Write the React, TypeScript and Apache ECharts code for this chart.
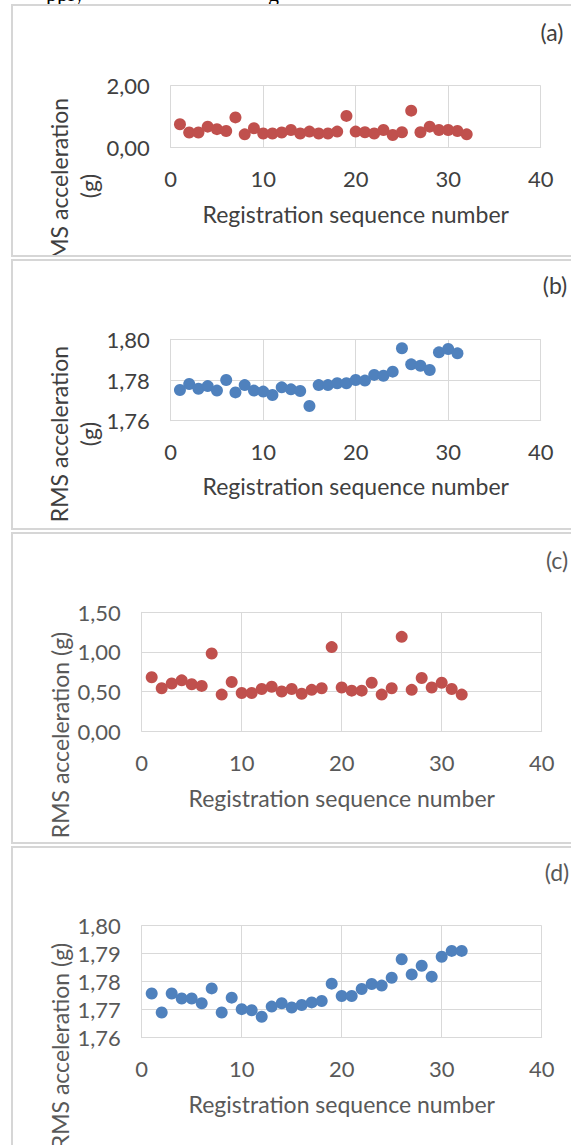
import React, { useEffect, useRef } from "react";
import * as echarts from "echarts";

// ---------- data ----------
const seq32 = [1, 2, 3, 4, 5, 6, 7, 8, 9, 10, 11, 12, 13, 14, 15, 16, 17, 18, 19, 20, 21, 22, 23, 24, 25, 26, 27, 28, 29, 30, 31, 32];
const seq31 = [1, 2, 3, 4, 5, 6, 7, 8, 9, 10, 11, 12, 13, 14, 15, 16, 17, 18, 19, 20, 21, 22, 23, 24, 25, 26, 27, 28, 29, 30, 31];

const rmsA = [0.75, 0.48, 0.48, 0.67, 0.59, 0.53, 0.97, 0.42, 0.62, 0.45, 0.45, 0.48, 0.56, 0.45, 0.51, 0.45, 0.45, 0.51, 1.02, 0.51, 0.49, 0.45, 0.56, 0.4, 0.49, 1.19, 0.49, 0.67, 0.56, 0.56, 0.53, 0.42];
const rmsB = [1.7751, 1.778, 1.7757, 1.777, 1.7748, 1.78, 1.7739, 1.7775, 1.7748, 1.7743, 1.7726, 1.7764, 1.7754, 1.7746, 1.7672, 1.7775, 1.7775, 1.7784, 1.7784, 1.78, 1.7797, 1.7825, 1.7821, 1.7841, 1.7956, 1.7877, 1.787, 1.7849, 1.7936, 1.7952, 1.7931];
const rmsC = [0.68, 0.54, 0.6, 0.64, 0.59, 0.57, 0.98, 0.46, 0.62, 0.48, 0.48, 0.53, 0.56, 0.5, 0.53, 0.47, 0.52, 0.54, 1.06, 0.55, 0.51, 0.51, 0.61, 0.46, 0.54, 1.19, 0.52, 0.67, 0.55, 0.61, 0.53, 0.46];
const rmsD = [1.7758, 1.769, 1.7758, 1.774, 1.774, 1.7723, 1.7776, 1.769, 1.7743, 1.7702, 1.7698, 1.7675, 1.7711, 1.7723, 1.7708, 1.7717, 1.7726, 1.7731, 1.7793, 1.7749, 1.7749, 1.7774, 1.7792, 1.7786, 1.7814, 1.788, 1.7826, 1.7857, 1.7818, 1.7889, 1.791, 1.791];

const xTicks = [0, 10, 20, 30, 40];
const yTicksA = [0, 2];
const yTicksB = [1.76, 1.78, 1.8];
const yTicksC = [0, 0.5, 1, 1.5];
const yTicksD = [1.76, 1.77, 1.78, 1.79, 1.8];

const xTitle = "Registration sequence number";
const yTitleTwoLine = "RMS acceleration\n(g)";
const yTitleOneLine = "RMS acceleration (g)";
const panelLetters = ["(a)", "(b)", "(c)", "(d)"];

// ---------- style / layout ----------
const RED = "#C0504D";
const BLUE = "#4F81BD";
const GRID = "#d9d9d9";
const FONT = "Lato, 'Open Sans', sans-serif";
const FS = 22;
const FS_T = 23;

const panels = [
  {
    letter: panelLetters[0], top: 5, bottom: 256, xs: seq32, ys: rmsA, yTicks: yTicksA, color: RED, text: "#404040",
    plot: { left: 170.7, top: 85.7, width: 370, height: 61.6 },
    xTitleY: 214, yTitle: yTitleTwoLine, yTitlePos: [74, 186], letterPos: [552, 32],
  },
  {
    letter: panelLetters[1], top: 260, bottom: 529, xs: seq31, ys: rmsB, yTicks: yTicksB, color: BLUE, text: "#404040",
    plot: { left: 170.7, top: 339.3, width: 370, height: 81.4 },
    xTitleY: 486, yTitle: yTitleTwoLine, yTitlePos: [74, 434], letterPos: [555, 285],
  },
  {
    letter: panelLetters[2], top: 533, bottom: 843, xs: seq32, ys: rmsC, yTicks: yTicksC, color: RED, text: "#595959",
    plot: { left: 141.7, top: 612.3, width: 400, height: 118.7 },
    xTitleY: 798, yTitle: yTitleOneLine, yTitlePos: [60, 735], letterPos: [557, 560],
  },
  {
    letter: panelLetters[3], top: 847, bottom: 1160, xs: seq32, ys: rmsD, yTicks: yTicksD, color: BLUE, text: "#595959",
    plot: { left: 141.7, top: 925.7, width: 400, height: 112 },
    xTitleY: 1104, yTitle: yTitleOneLine, yTitlePos: [60, 1046], letterPos: [557, 872],
  },
];

const OX = 11;

function buildOption(p: any) {
  const oy = p.top - 1;
  const yMin = p.yTicks[0];
  const yMax = p.yTicks[p.yTicks.length - 1];
  const yInt = +(p.yTicks[1] - p.yTicks[0]).toFixed(4);
  const txt = (s: string, x: number, y: number, fs: number, extra: any = {}) => ({
    type: "text",
    x: x - OX,
    y: y - oy,
    z: 10,
    ...extra,
    style: {
      text: s,
      fontFamily: FONT,
      fontSize: fs,
      fill: p.text,
      align: "center",
      verticalAlign: "middle",
      textAlign: "center",
      textVerticalAlign: "middle",
      lineHeight: 30,
    },
  });
  return {
    animation: false,
    grid: {
      left: p.plot.left - OX,
      top: p.plot.top - oy,
      width: p.plot.width,
      height: p.plot.height,
      containLabel: false,
    },
    xAxis: {
      type: "value",
      min: xTicks[0],
      max: xTicks[xTicks.length - 1],
      interval: xTicks[1] - xTicks[0],
      axisLine: { show: true, lineStyle: { color: GRID, width: 1 } },
      axisTick: { show: false },
      splitLine: { show: true, lineStyle: { color: GRID, width: 1 } },
      axisLabel: { margin: 20, color: p.text, fontFamily: FONT, fontSize: FS },
    },
    yAxis: {
      type: "value",
      min: yMin,
      max: yMax,
      interval: yInt,
      axisLine: { show: true, lineStyle: { color: GRID, width: 1 } },
      axisTick: { show: false },
      splitLine: { show: true, lineStyle: { color: GRID, width: 1 } },
      axisLabel: {
        margin: 21,
        color: p.text,
        fontFamily: FONT,
        fontSize: FS,
        formatter: (v: number) => v.toFixed(2).replace(".", ","),
      },
    },
    series: [
      {
        type: "scatter",
        data: p.xs.map((x: number, i: number) => [x, p.ys[i]]),
        symbol: "circle",
        symbolSize: 12,
        itemStyle: { color: p.color, opacity: 1 },
      },
    ],
    graphic: [
      txt(p.yTitle, p.yTitlePos[0], p.yTitlePos[1], FS_T, { rotation: Math.PI / 2 }),
      txt(xTitle, p.plot.left + p.plot.width / 2, p.xTitleY, FS_T),
      txt(p.letter, p.letterPos[0], p.letterPos[1], FS_T),
      {
        type: "rect",
        z: 100,
        shape: { x: 1, y: 1, width: 620, height: p.bottom - p.top },
        style: { fill: "none", stroke: "#d6d6d6", lineWidth: 2 },
      },
    ],
  };
}

function Panel({ p }: { p: any }) {
  const ref = useRef<HTMLDivElement>(null);
  useEffect(() => {
    if (!ref.current) return;
    const chart = echarts.init(ref.current, null, { renderer: "svg" });
    chart.setOption(buildOption(p) as any);
    return () => chart.dispose();
  }, [p]);
  return (
    <div
      ref={ref}
      style={{
        position: "absolute",
        left: OX,
        top: p.top - 1,
        width: 590,
        height: p.bottom - p.top + 2,
        overflow: "hidden",
      }}
    />
  );
}

export default function App() {
  return (
    <div
      style={{
        position: "absolute",
        left: 0,
        top: 0,
        width: 571,
        height: 1145,
        overflow: "hidden",
        background: "#fff",
      }}
    >
      <div
        style={{
          position: "absolute",
          left: 46,
          top: -17,
          font: "22px 'Liberation Serif', serif",
          lineHeight: "22px",
          color: "#000",
          whiteSpace: "pre",
        }}
      >
        {"pply"}
      </div>
      <div
        style={{
          position: "absolute",
          left: 268,
          top: -17,
          font: "22px 'Liberation Serif', serif",
          lineHeight: "22px",
          color: "#000",
        }}
      >
        {"g"}
      </div>
      {panels.map((p) => (
        <Panel key={p.letter} p={p} />
      ))}
    </div>
  );
}
